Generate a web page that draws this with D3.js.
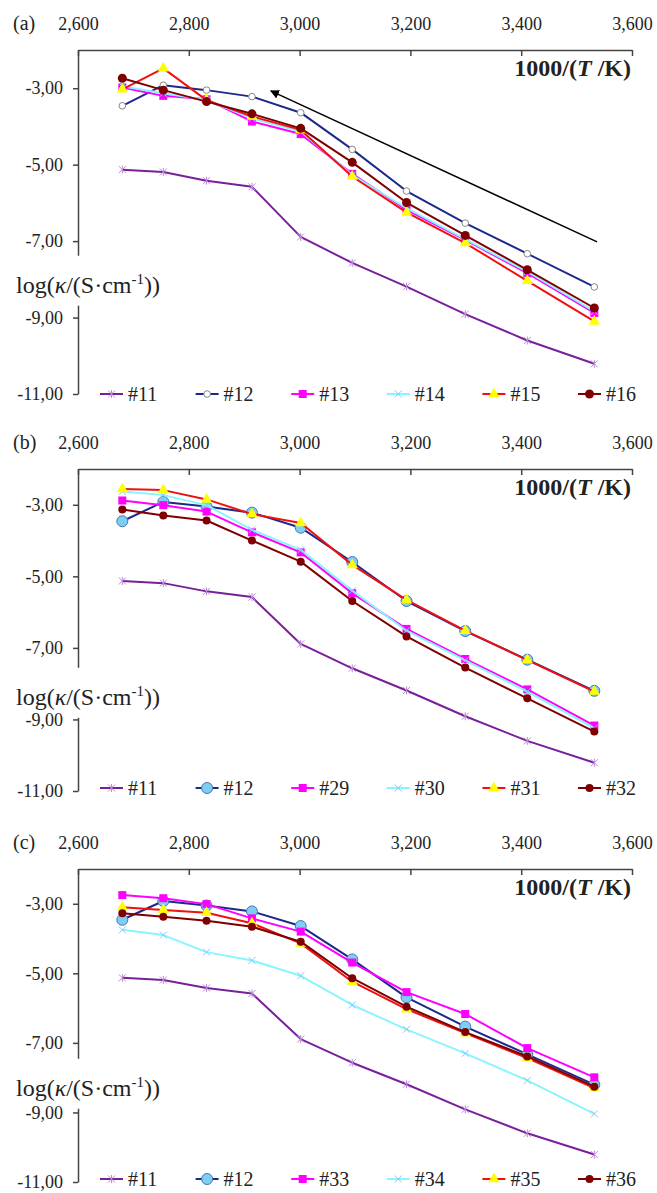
<!DOCTYPE html>
<html>
<head>
<meta charset="utf-8">
<script src="https://cdn.jsdelivr.net/npm/d3@7"></script>
<style>
  body { margin: 0; background: #fff; }
  svg text { font-family: "Liberation Serif", "Times New Roman", serif; }
  .axis path, .axis line { stroke: #444; stroke-width: 1.5; }
</style>
</head>
<body>
<svg id="chart" width="657" height="1193"></svg>
<script>
// 1000/(T/K) for 100 ... 10 °C
var xVals = [2.680, 2.754, 2.832, 2.914, 3.002, 3.095, 3.193, 3.299, 3.411, 3.532];
var xTicks = [2.6, 2.8, 3.0, 3.2, 3.4, 3.6];
var yTicks = [-3, -5, -7, -9, -11];
var panelLabels = ["(a)", "(b)", "(c)"];

// log(kappa) series
var s11 = [-5.13, -5.19, -5.42, -5.58, -6.89, -7.57, -8.19, -8.91, -9.60, -10.21];
var s12 = [-3.46, -2.92, -3.05, -3.22, -3.64, -4.60, -5.69, -6.53, -7.33, -8.20];
var s13 = [-2.98, -3.20, -3.29, -3.87, -4.20, -5.24, -6.18, -6.97, -7.84, -8.88];
var s14 = [-2.95, -3.13, -3.31, -3.79, -4.13, -5.27, -6.14, -6.95, -7.80, -8.84];
var s15 = [-3.03, -2.48, -3.31, -3.74, -4.09, -5.31, -6.25, -7.05, -8.04, -9.10];
var s16 = [-2.74, -3.05, -3.35, -3.67, -4.05, -4.94, -5.99, -6.85, -7.75, -8.75];
var s29 = [-2.88, -3.01, -3.19, -3.77, -4.33, -5.47, -6.47, -7.31, -8.16, -9.17];
var s30 = [-2.63, -2.73, -3.01, -3.70, -4.26, -5.40, -6.52, -7.35, -8.22, -9.24];
var s31 = [-2.56, -2.59, -2.85, -3.26, -3.51, -4.68, -5.66, -6.52, -7.34, -8.22];
var s32 = [-3.13, -3.30, -3.44, -4.00, -4.59, -5.69, -6.68, -7.55, -8.41, -9.34];
var s33 = [-2.75, -2.84, -3.01, -3.42, -3.80, -4.69, -5.54, -6.17, -7.15, -7.99];
var s34 = [-3.75, -3.90, -4.39, -4.63, -5.07, -5.91, -6.61, -7.30, -8.08, -9.04];
var s35 = [-3.10, -3.18, -3.26, -3.56, -4.14, -5.24, -6.03, -6.72, -7.44, -8.30];
var s36 = [-3.27, -3.37, -3.49, -3.66, -4.09, -5.14, -5.96, -6.69, -7.39, -8.26];

var panelNames = [
  ["#11", "#12", "#13", "#14", "#15", "#16"],
  ["#11", "#12", "#29", "#30", "#31", "#32"],
  ["#11", "#12", "#33", "#34", "#35", "#36"]
];
var panelData = [
  [s11, s12, s13, s14, s15, s16],
  [s11, s12, s29, s30, s31, s32],
  [s11, s12, s33, s34, s35, s36]
];

// arrow in panel (a): [x, y] from -> to
var arrowFrom = [3.537, -7.02];
var arrowTo = [2.948, -3.07];

// layout per panel
var layout = [
  {top: 50, bottom: 394, labelV: -8.35, legendY: 394},
  {top: 469, bottom: 791, labelV: -8.59, legendY: 788},
  {top: 869, bottom: 1182, labelV: -8.52, legendY: 1179}
];

var lineColors = ["#7a1f9a", "#1b2a8a", "#ff00ff", "#8af4ff", "#f01010", "#7f0000"];
var serif = "Liberation Serif, Times New Roman, serif";

var loc = d3.formatLocale({decimal: ",", thousands: " ", grouping: [3], currency: ["", ""], minus: "-"});
var fx = loc.format(".3f"), fy = loc.format(".2f");

var svg = d3.select("#chart");
var x = d3.scaleLinear().domain([2.6, 3.6]).range([78, 632]);

svg.append("defs").append("marker")
  .attr("id", "arrowhead")
  .attr("viewBox", "0 0 10 10")
  .attr("refX", 9).attr("refY", 5)
  .attr("markerWidth", 9).attr("markerHeight", 9)
  .attr("markerUnits", "userSpaceOnUse")
  .attr("orient", "auto")
  .append("path").attr("d", "M0,0L10,5L0,10z").attr("fill", "#000");

function drawMarker(g, si, pi, cx, cy) {
  if (si === 0) {
    g.append("path")
      .attr("d", "M-3.5,-3.5L3.5,3.5M-3.5,3.5L3.5,-3.5M0,-4V4")
      .attr("transform", "translate(" + cx + "," + cy + ")")
      .attr("stroke", "#b98bd6").attr("stroke-width", 1).attr("fill", "none");
  } else if (si === 1) {
    if (pi === 0) {
      g.append("circle").attr("cx", cx).attr("cy", cy).attr("r", 3.3)
        .attr("fill", "#fff").attr("stroke", "#888").attr("stroke-width", 1);
    } else {
      g.append("circle").attr("cx", cx).attr("cy", cy).attr("r", 5.5)
        .attr("fill", "#7ccff2").attr("stroke", "#4a74b0").attr("stroke-width", 1);
    }
  } else if (si === 2) {
    g.append("rect").attr("x", cx - 4).attr("y", cy - 4).attr("width", 8).attr("height", 8)
      .attr("fill", "#ff00ff");
  } else if (si === 3) {
    g.append("path")
      .attr("d", "M-3.5,-3.5L3.5,3.5M-3.5,3.5L3.5,-3.5")
      .attr("transform", "translate(" + cx + "," + cy + ")")
      .attr("stroke", "#7fc8ff").attr("stroke-width", 1).attr("fill", "none");
  } else if (si === 4) {
    g.append("path")
      .attr("d", d3.symbol().type(d3.symbolTriangle).size(55)())
      .attr("transform", "translate(" + cx + "," + cy + ")")
      .attr("fill", "#ffff00");
  } else {
    g.append("circle").attr("cx", cx).attr("cy", cy).attr("r", pi === 0 ? 4.5 : 4)
      .attr("fill", "#7f0000");
  }
}

layout.forEach(function(L, pi) {
  var y = d3.scaleLinear().domain([-2, -11]).range([L.top, L.bottom]);
  var g = svg.append("g");

  // x axis on top, ticks pointing down
  var xa = g.append("g").attr("class", "axis")
    .attr("transform", "translate(0," + L.top + ")")
    .call(d3.axisTop(x).tickValues(xTicks).tickFormat(fx)
      .tickSizeInner(-6).tickSizeOuter(0).tickPadding(20));

  // y axis
  var ya = g.append("g").attr("class", "axis")
    .attr("transform", "translate(" + x(2.6) + ",0)")
    .call(d3.axisLeft(y).tickValues(yTicks).tickFormat(fy)
      .tickSizeInner(5).tickSizeOuter(0).tickPadding(10));

  [xa, ya].forEach(function(a) {
    a.attr("font-family", serif).attr("font-size", 18);
    a.selectAll("text").attr("fill", "#222").style("font-family", serif).style("font-size", "18px");
    a.select(".domain").attr("fill", "none");
  });

  // panel label
  g.append("text").attr("x", 13).attr("y", L.top - 20)
    .style("font-family", serif).style("font-size", "20px").attr("fill", "#222").text(panelLabels[pi]);

  // x axis title
  var xt = g.append("text").attr("x", 631).attr("y", L.top + 26)
    .attr("text-anchor", "end").style("font-family", serif).style("font-size", "24px")
    .attr("font-weight", "bold").attr("fill", "#222");
  xt.append("tspan").text("1000/(");
  xt.append("tspan").attr("font-style", "italic").text("T");
  xt.append("tspan").text(" /K)");

  // y axis title with white gap over the axis line
  var ly = y(L.labelV);
  g.append("rect").attr("x", x(2.6) - 3).attr("y", ly - 37).attr("width", 6).attr("height", 50)
    .attr("fill", "#fff");
  var yt = g.append("text").attr("x", 16).attr("y", ly)
    .style("font-family", serif).style("font-size", "24px").attr("fill", "#222");
  yt.append("tspan").text("log(");
  yt.append("tspan").attr("font-style", "italic").text("κ");
  yt.append("tspan").text("/(S·cm");
  yt.append("tspan").attr("dy", -9).style("font-size", "15px").text("-1");
  yt.append("tspan").attr("dy", 9).text("))");

  // series
  var line = d3.line().x(function(d, i) { return x(xVals[i]); }).y(function(d) { return y(d); });
  panelData[pi].forEach(function(vals, si) {
    var sg = g.append("g");
    sg.append("path").datum(vals).attr("d", line)
      .attr("fill", "none").attr("stroke", lineColors[si]).attr("stroke-width", 2)
      .attr("stroke-linejoin", "round");
    vals.forEach(function(v, i) { drawMarker(sg, si, pi, x(xVals[i]), y(v)); });
  });

  // arrow only in (a)
  if (pi === 0) {
    g.append("line")
      .attr("x1", x(arrowFrom[0])).attr("y1", y(arrowFrom[1]))
      .attr("x2", x(arrowTo[0])).attr("y2", y(arrowTo[1]))
      .attr("stroke", "#000").attr("stroke-width", 1.5)
      .attr("marker-end", "url(#arrowhead)");
  }

  // legend
  panelNames[pi].forEach(function(name, si) {
    var lx = 100 + si * 95.6, lyy = L.legendY;
    var lg = g.append("g");
    lg.append("line").attr("x1", lx).attr("x2", lx + 23).attr("y1", lyy).attr("y2", lyy)
      .attr("stroke", lineColors[si]).attr("stroke-width", 2);
    drawMarker(lg, si, pi, lx + 11.5, lyy);
    lg.append("text").attr("x", lx + 28).attr("y", lyy + 7)
      .style("font-family", serif).style("font-size", "20px").attr("fill", "#222").text(name);
  });
});
</script>
</body>
</html>
